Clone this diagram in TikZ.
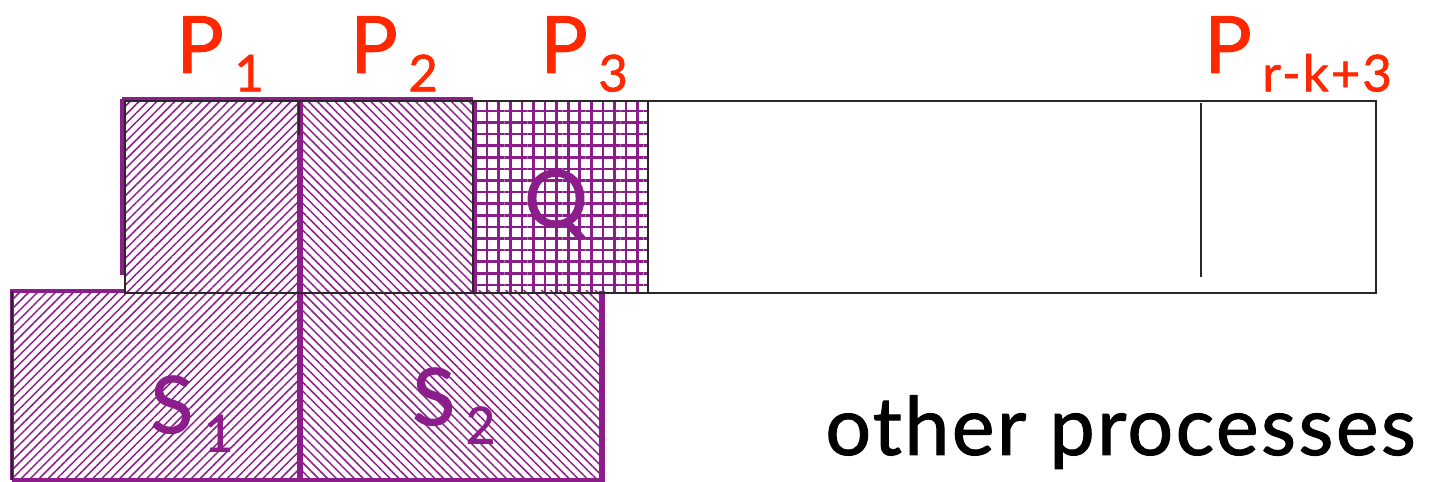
\documentclass[tikz,border=0pt]{standalone}
\usepackage{fontspec}
\setmainfont{Lato}[FakeBold=1.2]
\usetikzlibrary{patterns.meta}
\definecolor{pur}{RGB}{140,30,140}
\definecolor{lbl}{RGB}{255,40,0}
\definecolor{edge}{RGB}{40,40,40}
\newcommand\bigf{\fontsize{45}{45}\selectfont}
\newcommand\subf{\fontsize{29}{29}\selectfont\addfontfeature{LetterSpace=4}}
\newcommand\sbs[1]{\hspace{6pt}\raisebox{-10.5pt}{\subf #1}}
\tikzset{
  plabel/.style={anchor=base west, inner sep=0pt, text=lbl, font=\bigf},
  slabel/.style={anchor=base west, inner sep=0pt, text=pur, font=\bigf},
  hatchne/.style={pattern={Lines[angle=45,distance=3.6pt,line width=0.85pt]}, pattern color=pur},
  hatchnw/.style={pattern={Lines[angle=-45,distance=3.6pt,line width=0.85pt]}, pattern color=pur},
  gridfill/.style={pattern={Hatch[angle=0,distance=6.6pt,line width=1.5pt]}, pattern color=pur},
  thin/.style={draw=edge, line width=1.1pt},
  thick/.style={draw=pur, line width=2.8pt},
}
\begin{document}
\begin{tikzpicture}[x=0.02cm,y=-0.02cm]
\useasboundingbox (0,0) rectangle (1431,482);
\coordinate (tl) at (125,101);
\coordinate (tr) at (1376,293);
% fills
\fill[hatchne] (125,101) rectangle (299,293);
\fill[hatchnw] (299,101) rectangle (473,293);
\fill[gridfill] (473,101) rectangle (648,293);
\fill[hatchne] (12,291) rectangle (300,480);
\fill[hatchnw] (300,291) rectangle (602,480);
% purple outlines
\draw[thick] (12,480) -- (12,291) -- (125,291);
\draw[thick] (12,480) -- (602,480);
\draw[draw=pur,line width=3.4pt] (602,291) -- (602,482);
\draw[thick] (122,99.5) -- (473,99.5);
\draw[thick] (122,99.5) -- (122,275);
\draw[draw=pur,line width=3pt] (300,101) -- (300,482);
% black outlines
\draw[thin] (tl) rectangle (tr);
\draw[thin] (12,291) -- (12,480);
\draw[thin] (473,101) -- (473,293);
\draw[thin] (648,101) -- (648,293);
\draw[thin] (1201,103) -- (1201,277);
\draw[thin] (299,101) -- (299,135);
% labels
\node[plabel] (p1) at (176,73) {P\sbs{1}};
\node[plabel] (p2) at (350,73) {P\sbs{2}};
\node[plabel] (p3) at (540,73) {P\sbs{3}};
\node[plabel] (pr) at (1204,73) {P\sbs{r-k+3}};
\node[slabel, anchor=base] (q) at (556,227) {Q};
\node[slabel] (s1) at (150,433) {S\sbs{1}};
\node[slabel] (s2) at (412,425) {S\sbs{2}};
\node[anchor=base west, inner sep=0pt, font=\fontsize{46}{46}\selectfont\addfontfeature{LetterSpace=3}] (oth) at (825,455) {other processes};
\end{tikzpicture}
\end{document}
